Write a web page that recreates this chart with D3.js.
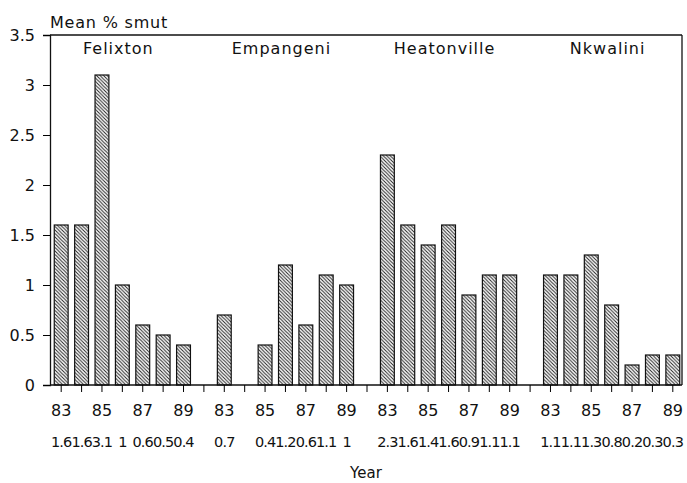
<!DOCTYPE html>
<html><head><meta charset="utf-8">
<script src="https://cdn.jsdelivr.net/npm/d3@7"></script>
<style>body{margin:0;background:#fff}svg{display:block}text{font-family:"DejaVu Sans",Arial,sans-serif;fill:#111}</style>
</head><body>
<svg id="c" width="687" height="483"></svg>
<script>
const sites = ["Felixton", "Empangeni", "Heatonville", "Nkwalini"];
const years = ["83", "84", "85", "86", "87", "88", "89"];
const yearLabels = ["83", "85", "87", "89"];
const felixton = [1.6, 1.6, 3.1, 1.0, 0.6, 0.5, 0.4];
const empangeni = [0.7, null, 0.4, 1.2, 0.6, 1.1, 1.0];
const heatonville = [2.3, 1.6, 1.4, 1.6, 0.9, 1.1, 1.1];
const nkwalini = [1.1, 1.1, 1.3, 0.8, 0.2, 0.3, 0.3];
const yTicks = [0, 0.5, 1, 1.5, 2, 2.5, 3, 3.5];
const seriesValues = [felixton, empangeni, heatonville, nkwalini];

const svg = d3.select("#c");
const L = 50, R = 682, T = 35, B = 385;

const slots = [];
sites.forEach((s, i) => {
  if (i > 0) slots.push({key: "gap" + i, gap: true});
  years.forEach((y, j) => slots.push({key: s + y, site: s, year: y, value: seriesValues[i][j]}));
});

const x = d3.scaleBand().domain(slots.map(d => d.key)).range([L + 1, R + 1]).paddingInner(0.32).paddingOuter(0.16);
const y = d3.scaleLinear().domain([0, 3.5]).range([B, T]);

const defs = svg.append("defs");
const pat = defs.append("pattern").attr("id", "hatch").attr("patternUnits", "userSpaceOnUse")
  .attr("width", 3.5).attr("height", 3.5);
pat.append("rect").attr("width", 3.5).attr("height", 3.5).attr("fill", "#fff");
pat.append("path").attr("d", "M0,0 L3.5,3.5 M-1,2.5 L1,4.5 M2.5,-1 L4.5,1")
  .attr("stroke", "#222").attr("stroke-width", 1);

svg.append("line").attr("x1", L).attr("x2", R).attr("y1", T).attr("y2", T).attr("stroke", "#111").attr("stroke-width", 1.3);
svg.append("line").attr("x1", R).attr("x2", R).attr("y1", T).attr("y2", B).attr("stroke", "#111").attr("stroke-width", 1.3);

const barData = slots.filter(d => !d.gap && d.value != null);
svg.append("g").selectAll("rect").data(barData).join("rect")
  .attr("x", d => x(d.key)).attr("width", x.bandwidth())
  .attr("y", d => y(d.value)).attr("height", d => y(0) - y(d.value))
  .attr("fill", "url(#hatch)").attr("stroke", "#111").attr("stroke-width", 1.2);

const yAxis = svg.append("g").attr("transform", `translate(${L},0)`)
  .call(d3.axisLeft(y).tickValues(yTicks).tickFormat(d => String(d)).tickSize(7).tickPadding(8));
yAxis.select(".domain").attr("stroke", "#111").attr("stroke-width", 1.3);
yAxis.selectAll("text").style("font-size", "16px").attr("fill", "#111");

const xAxis = svg.append("g").attr("transform", `translate(0,${B})`)
  .call(d3.axisBottom(x).tickSize(7).tickSizeOuter(0).tickFormat(k => {
    const s = slots.find(d => d.key === k);
    return (s && !s.gap && yearLabels.includes(s.year)) ? s.year : "";
  }).tickPadding(13));
xAxis.select(".domain").attr("d", `M${L},0H${R}`).attr("stroke", "#111").attr("stroke-width", 1.3);
xAxis.selectAll("text").style("font-size", "16px").attr("fill", "#111");

svg.append("g").selectAll("text").data(barData).join("text")
  .attr("x", d => x(d.key) + x.bandwidth() / 2).attr("y", 447)
  .attr("text-anchor", "middle").style("font-size", "14.5px").style("letter-spacing", "-0.9px")
  .text(d => String(d.value));

sites.forEach(s => {
  const keys = years.map(yv => s + yv);
  const cx = (x(keys[0]) + x(keys[6]) + x.bandwidth()) / 2 - 4;
  svg.append("text").attr("x", cx).attr("y", 54).attr("text-anchor", "middle")
    .style("font-size", "16px").style("letter-spacing", "1px").text(s);
});

svg.append("text").attr("x", 50).attr("y", 28).style("font-size", "16px").style("letter-spacing", "0.8px").text("Mean % smut");
svg.append("text").attr("x", 366).attr("y", 478).attr("text-anchor", "middle").style("font-size", "15px").text("Year");
</script>
</body></html>
